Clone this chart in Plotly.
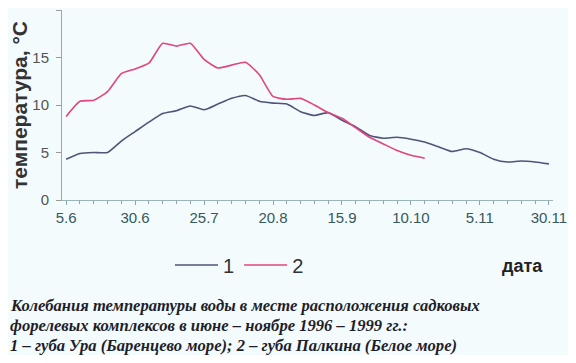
import plotly.graph_objects as go

# 5-day categories (pentads) from 5 June to 30 November
dates = ["5.6", "10.6", "15.6", "20.6", "25.6", "30.6",
         "5.7", "10.7", "15.7", "20.7", "25.7", "30.7",
         "5.8", "10.8", "15.8", "20.8", "25.8", "30.8",
         "5.9", "10.9", "15.9", "20.9", "25.9", "30.9",
         "5.10", "10.10", "15.10", "20.10", "25.10", "30.10",
         "5.11", "10.11", "15.11", "20.11", "25.11", "30.11"]

# 1 – губа Ура (Баренцево море)
series1 = [4.3, 4.9, 5.0, 5.0, 6.2, 7.2, 8.2, 9.1, 9.4, 9.9, 9.5, 10.1,
           10.7, 11.0, 10.4, 10.2, 10.1, 9.3, 8.9, 9.2, 8.4, 7.7, 6.8, 6.5,
           6.6, 6.4, 6.1, 5.6, 5.1, 5.4, 5.0, 4.3, 4.0, 4.1, 4.0, 3.8]

# 2 – губа Палкина (Белое море)
series2 = [8.8, 10.4, 10.5, 11.4, 13.3, 13.8, 14.4, 16.5, 16.2, 16.5, 14.8, 13.9,
           14.2, 14.5, 13.2, 10.9, 10.6, 10.7, 10.0, 9.2, 8.6, 7.6, 6.6, 5.9,
           5.2, 4.7, 4.4]

label_dates = ["5.6", "30.6", "25.7", "20.8", "15.9", "10.10", "5.11", "30.11"]
y_ticks = [0, 5, 10, 15, 20]

idx = {d: i for i, d in enumerate(dates)}
x1 = [idx[d] for d in dates[:len(series1)]]
x2 = [idx[d] for d in dates[:len(series2)]]

fig = go.Figure()
fig.add_trace(go.Scatter(x=x1, y=series1, mode="lines", name="1",
                         line=dict(color="#4f5578", width=1.6, shape="spline", smoothing=0.5)))
fig.add_trace(go.Scatter(x=x2, y=series2, mode="lines", name="2",
                         line=dict(color="#e2457f", width=1.6, shape="spline", smoothing=0.5)))

# page body has an 8px default margin: figure is drawn 8px in from the window edge
O = 8
W, H = 576 - 2 * O, 363 - 2 * O
# plot area in window pixels
L, R, T, B = 62, 553, 10, 200
def px(p):
    return (p - L) / (R - L)
def py(p):
    return (B - p) / (B - T)
def cx(p):
    return (p - O) / W
def cy(p):
    return 1 - (p - O) / H

fig.update_layout(
    width=W, height=H,
    margin=dict(l=L - O, r=W - (R - O), t=T - O, b=H - (B - O), autoexpand=False),
    paper_bgcolor="#f4fbfc", plot_bgcolor="#f4fbfc",
    font=dict(family="Liberation Sans, Arial, sans-serif", color="#333"),
    showlegend=True,
    legend=dict(orientation="h", xref="container", yref="container",
                x=cx(170), y=cy(265), xanchor="left", yanchor="middle",
                font=dict(size=20, color="#333"), bgcolor="rgba(0,0,0,0)",
                itemwidth=43, tracegroupgap=0),
    xaxis=dict(
        range=[-0.3, len(dates) - 1 + 0.3],
        automargin=False,
        tickmode="array",
        tickvals=[idx[d] for d in label_dates],
        ticktext=label_dates,
        tickfont=dict(size=15, color="#34595e"),
        ticklabeloverflow="allow",
        ticks="outside", ticklen=4, tickcolor="#8aa6aa",
        minor=dict(dtick=1, ticks="outside", ticklen=3, tickcolor="#8aa6aa"),
        showline=True, linecolor="#9cb4b8", linewidth=1,
        showgrid=False, zeroline=False,
    ),
    yaxis=dict(
        range=[0, 20],
        automargin=False,
        tickmode="array", tickvals=y_ticks,
        tickfont=dict(size=15, color="#555"),
        ticks="outside", ticklen=5, tickcolor="#999",
        ticklabelstandoff=4,
        showline=True, linecolor="#9aa8ac", linewidth=1,
        showgrid=False, zeroline=False,
        title=dict(text="<b>температура, °C</b>", standoff=3,
                   font=dict(size=21, color="#333", family="Liberation Sans, Arial, sans-serif")),
    ),
)

fig.add_annotation(text="<b>дата</b>", xref="paper", yref="paper",
                   x=px(522), y=py(266), xanchor="center", yanchor="middle",
                   showarrow=False, font=dict(size=18, color="#222"))

caption = [
    "Колебания температуры воды в месте расположения садковых",
    "форелевых комплексов в июне – ноябре 1996 – 1999 гг.:",
    "1 – губа Ура (Баренцево море); 2 – губа Палкина (Белое море)",
]
for line, ypix in zip(caption, [305, 325, 345]):
    fig.add_annotation(text="<b><i>" + line + "</i></b>", xref="paper", yref="paper",
                       x=px(O), y=py(ypix), xanchor="left", yanchor="middle",
                       showarrow=False,
                       font=dict(size=16.6, color="#1e1e2a",
                                 family="Liberation Serif, Times New Roman, serif"))

fig.write_html("out.html")
